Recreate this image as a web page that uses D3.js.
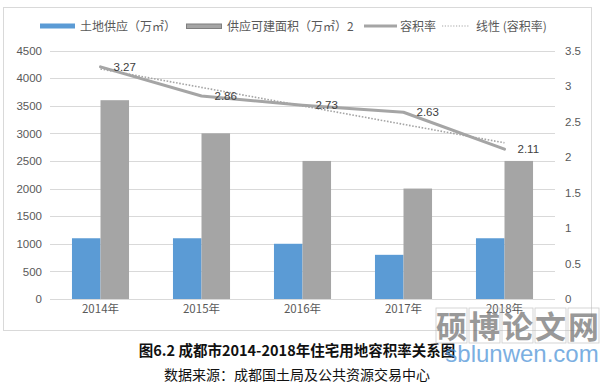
<!DOCTYPE html>
<html>
<head>
<meta charset="utf-8">
<script src="https://cdn.jsdelivr.net/npm/d3@7"></script>
<style>
  body { margin: 0; background: #fff; }
  text { font-family: "Noto Sans CJK SC", "Noto Sans", sans-serif; }
</style>
</head>
<body>
<script>
// chart data
var years = ["2014年", "2015年", "2016年", "2017年", "2018年"];
var landSupply = [1100, 1100, 1000, 800, 1100];
var buildArea = [3600, 3000, 2500, 2000, 2500];
var plotRatio = [3.27, 2.86, 2.73, 2.63, 2.11];
var trendRatio = [3.24, 2.98, 2.72, 2.46, 2.20];
var leftTicks = [0, 500, 1000, 1500, 2000, 2500, 3000, 3500, 4000, 4500];
var rightTicks = [0, 0.5, 1, 1.5, 2, 2.5, 3, 3.5];

var width = 607, height = 384;
var plot = {left: 50, right: 555, top: 50.5, bottom: 299};
var textColor = "#595959";
var numFont = "Liberation Sans, Arial, sans-serif";

var svg = d3.select("body").append("svg")
  .attr("width", width)
  .attr("height", height);

// chart frame
svg.append("rect")
  .attr("x", 3.5).attr("y", 7.5)
  .attr("width", 588).attr("height", 323)
  .attr("fill", "#fff")
  .attr("stroke", "#d9d9d9");

// scales
var x = d3.scaleBand()
  .domain(years)
  .range([plot.left, plot.right])
  .paddingInner(0.435)
  .paddingOuter(0.2175);

var xSub = d3.scaleBand()
  .domain(["land", "build"])
  .range([0, x.bandwidth()]);

var yLeft = d3.scaleLinear().domain([0, 4500]).range([plot.bottom, plot.top]);
var yRight = d3.scaleLinear().domain([0, 3.5]).range([plot.bottom, plot.top]);

// grid lines
svg.append("g")
  .selectAll("line")
  .data(leftTicks)
  .enter()
  .append("line")
  .attr("x1", plot.left).attr("x2", plot.right)
  .attr("y1", function(d) { return Math.round(yLeft(d)) + 0.5; })
  .attr("y2", function(d) { return Math.round(yLeft(d)) + 0.5; })
  .attr("stroke", "#d9d9d9");

// left axis
var leftAxis = svg.append("g")
  .attr("transform", "translate(" + (plot.left - 8) + ",0)")
  .call(d3.axisLeft(yLeft).tickValues(leftTicks).tickSize(0).tickPadding(0)
    .tickFormat(d3.format("d")));
leftAxis.select(".domain").remove();
leftAxis.selectAll("text")
  .attr("fill", textColor)
  .style("font-size", "11.5px")
  .style("font-family", numFont);

// right axis
var rightAxis = svg.append("g")
  .attr("transform", "translate(" + (plot.right + 10) + ",0)")
  .call(d3.axisRight(yRight).tickValues(rightTicks).tickSize(0).tickPadding(0)
    .tickFormat(function(d) { return String(d); }));
rightAxis.select(".domain").remove();
rightAxis.selectAll("text")
  .attr("fill", textColor)
  .style("font-size", "11.5px")
  .style("font-family", numFont);

// bottom axis labels
var bottomAxis = svg.append("g")
  .attr("transform", "translate(0," + (plot.bottom + 6) + ")")
  .call(d3.axisBottom(x).tickSize(0).tickPadding(0));
bottomAxis.select(".domain").remove();
bottomAxis.selectAll("text")
  .attr("fill", textColor)
  .style("font-size", "11.5px");

// bars
var barGroups = svg.append("g")
  .selectAll("g")
  .data(years)
  .enter()
  .append("g")
  .attr("transform", function(d) { return "translate(" + x(d) + ",0)"; });

barGroups.append("rect")
  .attr("x", xSub("land"))
  .attr("width", xSub.bandwidth())
  .attr("y", function(d, i) { return yLeft(landSupply[i]); })
  .attr("height", function(d, i) { return plot.bottom - yLeft(landSupply[i]); })
  .attr("fill", "#5b9bd5");

barGroups.append("rect")
  .attr("x", xSub("build"))
  .attr("width", xSub.bandwidth())
  .attr("y", function(d, i) { return yLeft(buildArea[i]); })
  .attr("height", function(d, i) { return plot.bottom - yLeft(buildArea[i]); })
  .attr("fill", "#a5a5a5");

// ratio line
var cx = function(d, i) { return x(years[i]) + x.bandwidth() / 2; };

svg.append("path")
  .datum(plotRatio)
  .attr("d", d3.line().x(cx).y(function(d) { return yRight(d); }))
  .attr("fill", "none")
  .attr("stroke", "#a5a5a5")
  .attr("stroke-width", 3)
  .attr("stroke-linejoin", "round")
  .attr("stroke-linecap", "round");

// trend line (dotted)
svg.append("path")
  .datum(trendRatio)
  .attr("d", d3.line().x(cx).y(function(d) { return yRight(d); }))
  .attr("fill", "none")
  .attr("stroke", "#a5a5a5")
  .attr("stroke-width", 1.6)
  .attr("stroke-dasharray", "1.6,1.6");

// data labels
svg.append("g")
  .selectAll("text")
  .data(plotRatio)
  .enter()
  .append("text")
  .attr("x", function(d, i) { return cx(d, i) + 13; })
  .attr("y", function(d) { return yRight(d) + 4; })
  .attr("fill", "#404040")
  .style("font-size", "11.5px")
  .style("font-family", numFont)
  .text(function(d) { return d3.format(".2f")(d); });

// legend
var legend = svg.append("g").attr("transform", "translate(0,26)");

function legendText(lx, label) {
  legend.append("text")
    .attr("x", lx).attr("y", 4.5)
    .attr("fill", textColor)
    .style("font-size", "12px")
    .text(label);
}

legend.append("rect").attr("x", 40).attr("y", -2.5).attr("width", 35).attr("height", 5).attr("fill", "#5b9bd5");
legendText(80, "土地供应（万㎡）");
legend.append("rect").attr("x", 186.5).attr("y", -2).attr("width", 35).attr("height", 4.5)
  .attr("fill", "#a5a5a5").attr("stroke", "#7f7f7f").attr("stroke-width", 1);
legendText(227, "供应可建面积（万㎡）2");
legend.append("line").attr("x1", 364).attr("x2", 397).attr("y1", 0).attr("y2", 0)
  .attr("stroke", "#a5a5a5").attr("stroke-width", 3);
legendText(400, "容积率");
legend.append("line").attr("x1", 442).attr("x2", 470).attr("y1", 0).attr("y2", 0)
  .attr("stroke", "#a5a5a5").attr("stroke-width", 1.2).attr("stroke-dasharray", "1.2,1.6");
legendText(476, "线性 (容积率)");

// captions
svg.append("text")
  .attr("x", 297).attr("y", 356)
  .attr("text-anchor", "middle")
  .attr("fill", "#111")
  .style("font-size", "14.5px")
  .style("font-weight", "bold")
  .text("图6.2 成都市2014-2018年住宅用地容积率关系图");

svg.append("text")
  .attr("x", 297).attr("y", 380)
  .attr("text-anchor", "middle")
  .attr("fill", "#111")
  .style("font-size", "14px")
  .text("数据来源：成都国土局及公共资源交易中心");

// watermark
var wm = svg.append("g").attr("opacity", 0.75);
var wmChars = ["硕", "博", "论", "文", "网"];
wm.selectAll("rect")
  .data(wmChars)
  .enter()
  .append("rect")
  .attr("x", function(d, i) { return 436 + i * 33; })
  .attr("y", 308)
  .attr("width", 31).attr("height", 35)
  .attr("fill", "none")
  .attr("stroke", "#bbb")
  .attr("stroke-width", 0.8);
wm.selectAll("text.wm")
  .data(wmChars)
  .enter()
  .append("text")
  .attr("class", "wm")
  .attr("x", function(d, i) { return 451.5 + i * 33; })
  .attr("y", 338)
  .attr("text-anchor", "middle")
  .attr("fill", "#777")
  .style("font-size", "31px")
  .style("font-weight", "bold")
  .text(function(d) { return d; });
wm.append("text")
  .attr("x", 522).attr("y", 362)
  .attr("text-anchor", "middle")
  .attr("fill", "#4f95d8")
  .style("font-size", "24px")
  .style("font-family", numFont)
  .text("sblunwen.com");
</script>
</body>
</html>
